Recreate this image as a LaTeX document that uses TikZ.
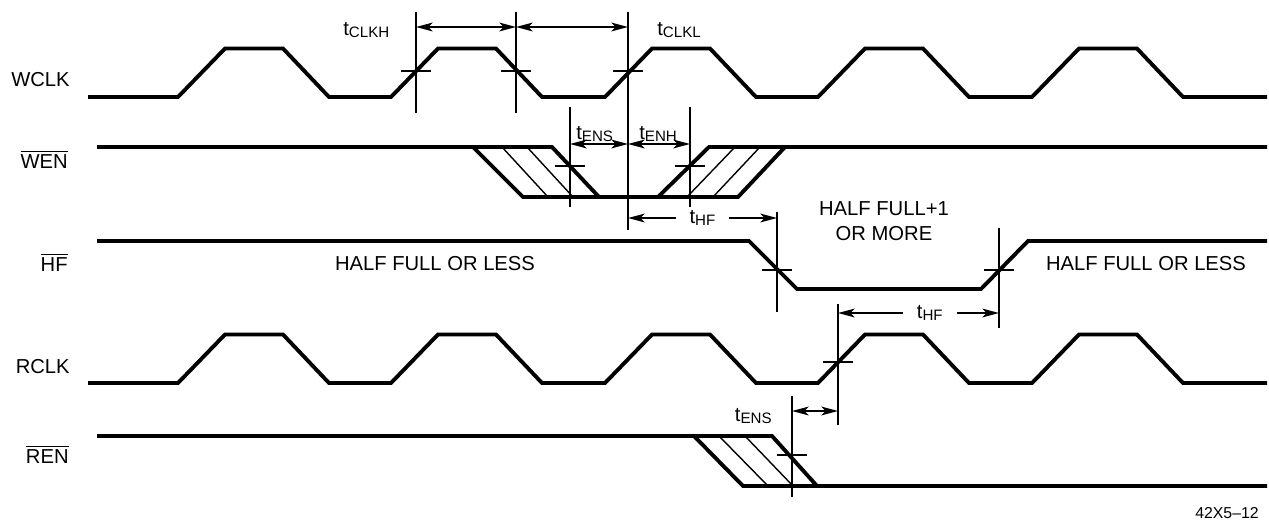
\documentclass[tikz,border=0pt]{standalone}
\usepackage{fontspec}
\setmainfont{Liberation Sans}
\usetikzlibrary{arrows.meta}
\newcommand{\tsub}[1]{t\raisebox{-1.2pt}{\fontsize{8.6pt}{9pt}\selectfont #1}}
\newcommand{\ovl}[1]{$\overline{\mbox{#1}}$}

\begin{document}
\begin{tikzpicture}[x=0.02cm, y=-0.02cm, font=\fontsize{11.5pt}{13.8pt}\selectfont,
  sig/.style={line width=2.2pt},
  refl/.style={line width=1.1pt},
  hatchl/.style={line width=0.8pt},
  dimarr/.style={refl, {Stealth[length=9.5pt,width=5pt,inset=2.5pt]}-{Stealth[length=9.5pt,width=5pt,inset=2.5pt]}},
  txt/.style={inner sep=0pt},
  sname/.style={inner sep=0pt, anchor=base east}]
\useasboundingbox (0,0) rectangle (1269,521);

\foreach \y in {97,383}
  \draw[sig] (88,\y) \foreach \s in {178,391,605,818,1032}{ -- (\s,\y) -- ++(47,-48.5) -- ++(58,0) -- ++(46,48.5)} -- (1267,\y);

\draw[sig] (97,147) -- (552,147) -- (599,197);
\draw[sig] (473,147) -- (523,197) -- (738,197) -- (785,147);
\draw[sig] (658,197) -- (709,147) -- (1267,147);
\draw[hatchl] (502,147) -- (548,197) (527,147) -- (573,197) (687,197) -- (735,147) (713,197) -- (760,147);

\draw[sig] (97,241) -- (749,241) -- (797,289) -- (981,289) -- (1028,241) -- (1267,241);

\draw[sig] (97,436) -- (772,436) -- (817,486);
\draw[sig] (694,436) -- (743,486) -- (1267,486);
\draw[hatchl] (719,436) -- (768,486) (745,436) -- (793,486);

\node[sname] (wclk) at (70,86) {WCLK};
\node[sname] (wen) at (68,168) {\ovl{WEN}};
\node[sname] (hf) at (68,271) {\ovl{HF}};
\node[sname] (rclk) at (70,373) {RCLK};
\node[sname] (ren) at (69,463) {\ovl{REN}};

\coordinate (c1) at (416,71);
\coordinate (c2) at (516,71);
\coordinate (c3) at (628,71);
\coordinate (e1) at (570,166);
\coordinate (e2) at (690,166);
\coordinate (h1) at (777,270);
\coordinate (h2) at (999,270);
\coordinate (r1) at (838,362);
\coordinate (n1) at (792,455);
\foreach \c in {c1,c2,c3,e1,e2,h1,h2,r1,n1}
  \draw[refl] (\c) ++(-15,0) -- ++(30,0);
\draw[refl] (416,12) -- (416,113) (516,12) -- (516,113) (628,12) -- (628,230);
\draw[refl] (570,107) -- (570,207) (690,107) -- (690,207);
\draw[refl] (777,212) -- (777,312) (999,228) -- (999,328);
\draw[refl] (838,304) -- (838,425) (792,396) -- (792,497);

\coordinate (kh) at (416,27);
\coordinate (km) at (516,27);
\coordinate (kl) at (628,27);
\draw[dimarr] (kh) -- (km);
\draw[dimarr] (km) -- (kl);
\node[txt, anchor=base west] (tkh) at (343,35) {\tsub{CLKH}};
\node[txt, anchor=base west] (tkl) at (657,35) {\tsub{CLKL}};

\coordinate (es) at (570,144);
\coordinate (em) at (628,144);
\coordinate (eh) at (690,144);
\draw[dimarr] (es) -- (em);
\draw[dimarr] (em) -- (eh);
\node[txt, anchor=base west] (tens) at (576,139) {\tsub{ENS}};
\node[txt, anchor=base west] (tenh) at (639,139) {\tsub{ENH}};

\coordinate (fa) at (628,218);
\coordinate (fb) at (777,218);
\draw[dimarr] (fa) -- node[fill=white, inner xsep=8pt, inner ysep=1pt] (thf1) {\tsub{HF}} (fb);
\coordinate (ga) at (838,313);
\coordinate (gb) at (999,313);
\draw[dimarr] (ga) -- node[pos=0.57, fill=white, inner xsep=8pt, inner ysep=1pt] (thf2) {\tsub{HF}} (gb);

\coordinate (na) at (792,411);
\coordinate (nb) at (838,411);
\draw[dimarr] (na) -- (nb);
\node[txt, anchor=base east] (tens2) at (772,421) {\tsub{ENS}};

\node[txt, anchor=base] (less1) at (435,270) {HALF FULL OR LESS};
\node[txt, anchor=base, align=center] (more) at (884,240) {HALF FULL+1\\ OR MORE};
\node[txt, anchor=base] (less2) at (1146,270) {HALF FULL OR LESS};
\node[txt, anchor=base east, font=\fontsize{9pt}{10pt}\selectfont] (fig) at (1259,518) {42X5--12};
\end{tikzpicture}
\end{document}
